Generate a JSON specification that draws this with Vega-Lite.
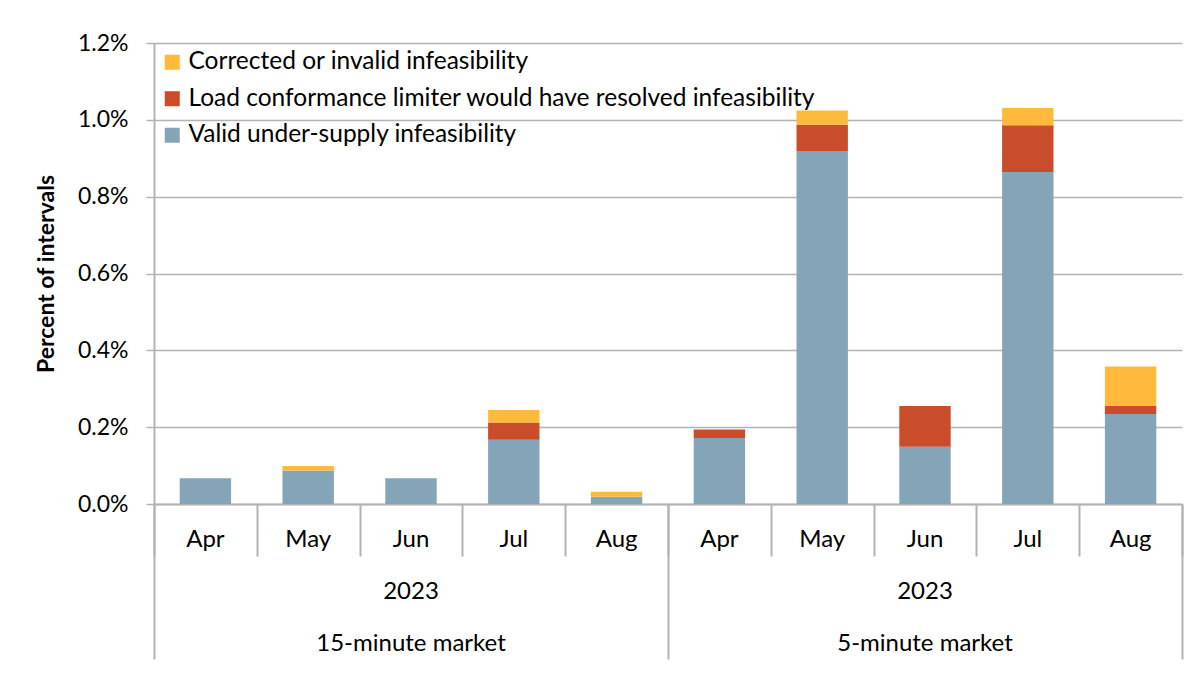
{
  "$schema": "https://vega.github.io/schema/vega-lite/v6.json",
  "width": 1028,
  "height": 461,
  "autosize": {"type": "none"},
  "padding": {"left": 154, "top": 43, "right": 17, "bottom": 175},
  "background": "white",
  "config": {
    "font": "Lato",
    "view": {"stroke": null},
    "axis": {"labelFont": "Lato", "titleFont": "Lato", "labelColor": "#000000", "titleColor": "#000000", "labelLimit": 600}
  },
  "data": {
    "values": [
      {"key": "15-minute market|Apr", "series": "Valid under-supply infeasibility", "value": 0.067},
      {"key": "15-minute market|May", "series": "Valid under-supply infeasibility", "value": 0.087},
      {"key": "15-minute market|May", "series": "Corrected or invalid infeasibility", "value": 0.012},
      {"key": "15-minute market|Jun", "series": "Valid under-supply infeasibility", "value": 0.067},
      {"key": "15-minute market|Jul", "series": "Valid under-supply infeasibility", "value": 0.167},
      {"key": "15-minute market|Jul", "series": "Load conformance limiter would have resolved infeasibility", "value": 0.045},
      {"key": "15-minute market|Jul", "series": "Corrected or invalid infeasibility", "value": 0.033},
      {"key": "15-minute market|Aug", "series": "Valid under-supply infeasibility", "value": 0.019},
      {"key": "15-minute market|Aug", "series": "Corrected or invalid infeasibility", "value": 0.013},
      {"key": "5-minute market|Apr", "series": "Valid under-supply infeasibility", "value": 0.172},
      {"key": "5-minute market|Apr", "series": "Load conformance limiter would have resolved infeasibility", "value": 0.022},
      {"key": "5-minute market|May", "series": "Valid under-supply infeasibility", "value": 0.919},
      {"key": "5-minute market|May", "series": "Load conformance limiter would have resolved infeasibility", "value": 0.068},
      {"key": "5-minute market|May", "series": "Corrected or invalid infeasibility", "value": 0.037},
      {"key": "5-minute market|Jun", "series": "Valid under-supply infeasibility", "value": 0.149},
      {"key": "5-minute market|Jun", "series": "Load conformance limiter would have resolved infeasibility", "value": 0.106},
      {"key": "5-minute market|Jul", "series": "Valid under-supply infeasibility", "value": 0.864},
      {"key": "5-minute market|Jul", "series": "Load conformance limiter would have resolved infeasibility", "value": 0.122},
      {"key": "5-minute market|Jul", "series": "Corrected or invalid infeasibility", "value": 0.045},
      {"key": "5-minute market|Aug", "series": "Valid under-supply infeasibility", "value": 0.234},
      {"key": "5-minute market|Aug", "series": "Load conformance limiter would have resolved infeasibility", "value": 0.022},
      {"key": "5-minute market|Aug", "series": "Corrected or invalid infeasibility", "value": 0.102}
    ]
  },
  "layer": [
    {
      "mark": {"type": "bar", "width": {"band": 0.5}},
      "encoding": {
        "x": {
          "field": "key", "type": "nominal", "sort": null,
          "scale": {"paddingInner": 0, "paddingOuter": 0},
          "axis": {
            "orient": "bottom",
            "title": null, "grid": false, "ticks": false,
            "labelExpr": "split(datum.value,'|')[1]", "labelAngle": 0, "labelOverlap": false,
            "labelFontSize": 24, "labelPadding": 35, "labelBaseline": "middle",
            "domainColor": "#b3b3b3", "domainWidth": 2
          }
        },
        "y": {
          "field": "value", "type": "quantitative", "stack": "zero",
          "scale": {"domain": [0, 1.2], "nice": false},
          "axis": {
            "title": "Percent of intervals", "titleFontSize": 23, "titleFontWeight": "bold", "titlePadding": 19,
            "values": [0, 0.2, 0.4, 0.6, 0.8, 1.0, 1.2],
            "labelExpr": "format(datum.value,'.1f')+'%'",
            "labelFontSize": 23, "labelPadding": 18,
            "grid": true, "gridColor": "#b3b3b3", "gridWidth": 1.5,
            "domainColor": "#b3b3b3", "domainWidth": 2,
            "tickColor": "#b3b3b3", "tickWidth": 1.5, "tickSize": 8
          }
        },
        "color": {
          "field": "series", "type": "nominal",
          "scale": {
            "domain": ["Corrected or invalid infeasibility", "Load conformance limiter would have resolved infeasibility", "Valid under-supply infeasibility"],
            "range": ["#ffb93c", "#c94c2b", "#84a5b8"]
          },
          "legend": {
            "title": null, "orient": "none", "legendX": 6, "legendY": 7,
            "symbolType": "square", "symbolSize": 225, "symbolStrokeWidth": 0,
            "labelFontSize": 24.5, "labelFont": "Lato", "labelColor": "#000000", "labelLimit": 900,
            "rowPadding": 11.5, "labelOffset": 4, "padding": 0
          }
        },
        "order": {"field": "series", "sort": "descending"}
      }
    },
    {
      "mark": {"type": "bar", "opacity": 0},
      "encoding": {
        "x": {
          "field": "key", "type": "nominal", "sort": null,
          "axis": {
            "orient": "bottom",
            "title": null, "grid": false, "labels": false, "domain": false,
            "tickBand": "extent", "tickSize": 52, "tickColor": "#b3b3b3", "tickWidth": 2
          }
        }
      }
    },
    {
      "mark": {"type": "bar", "opacity": 0},
      "encoding": {
        "x": {
          "field": "key", "type": "nominal", "sort": null,
          "axis": {
            "orient": "bottom",
            "title": null, "grid": false, "labels": false, "domain": false,
            "values": ["15-minute market|Apr", "5-minute market|Apr"], "bandPosition": 0,
            "tickSize": 155, "tickColor": "#b3b3b3", "tickWidth": 2
          }
        }
      }
    },
    {
      "mark": {"type": "bar", "opacity": 0},
      "encoding": {
        "x": {
          "field": "key", "type": "nominal", "sort": null,
          "axis": {
            "orient": "bottom",
            "title": null, "grid": false, "labels": false, "domain": false,
            "values": ["5-minute market|Aug"], "bandPosition": 1,
            "tickSize": 155, "tickColor": "#b3b3b3", "tickWidth": 2
          }
        }
      }
    },
    {
      "mark": {"type": "bar", "opacity": 0},
      "encoding": {
        "x": {
          "field": "key", "type": "nominal", "sort": null,
          "axis": {
            "orient": "bottom",
            "title": null, "grid": false, "ticks": false, "domain": false,
            "labelExpr": "split(datum.value,'|')[1]=='Jun' ? '2023' : ''", "labelAngle": 0, "labelOverlap": false,
            "labelFontSize": 24, "labelPadding": 87, "labelBaseline": "middle", "labelLimit": 600
          }
        }
      }
    },
    {
      "mark": {"type": "bar", "opacity": 0},
      "encoding": {
        "x": {
          "field": "key", "type": "nominal", "sort": null,
          "axis": {
            "orient": "bottom",
            "title": null, "grid": false, "ticks": false, "domain": false,
            "labelExpr": "split(datum.value,'|')[1]=='Jun' ? split(datum.value,'|')[0] : ''", "labelAngle": 0, "labelOverlap": false,
            "labelFontSize": 24, "labelPadding": 139, "labelBaseline": "middle", "labelLimit": 600
          }
        }
      }
    }
  ],
  "resolve": {"axis": {"x": "independent"}}
}
